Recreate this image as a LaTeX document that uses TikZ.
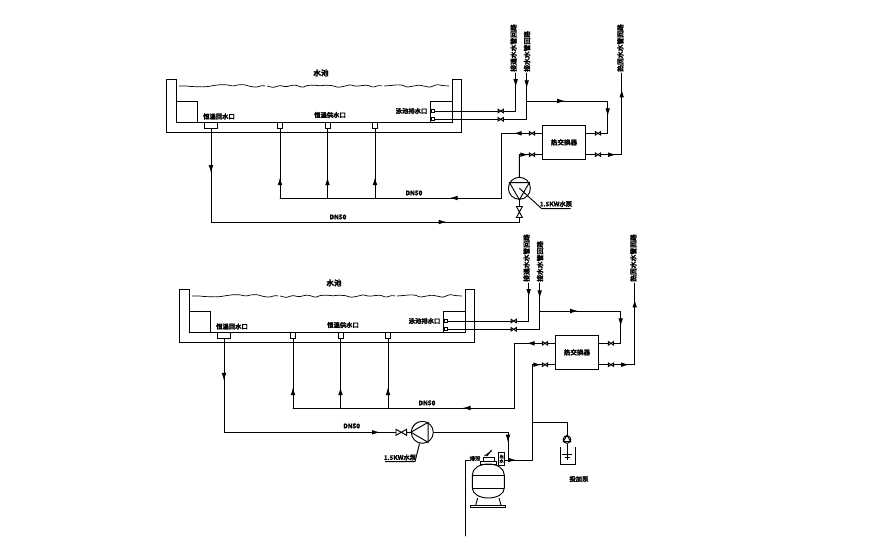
\documentclass[tikz,border=0pt]{standalone}
\usepackage{fontspec}
\setmainfont{Noto Sans CJK SC}[BoldFont={Noto Sans CJK SC Bold},BoldFeatures={FakeBold=1.6}]
\usetikzlibrary{arrows.meta,decorations.markings,decorations.pathmorphing}
\tikzset{
  pipe/.style={draw,thick,line cap=round},
  flowat/.style={postaction={decorate,decoration={markings,mark=at position #1 with {\arrow{Latex[length=2.4mm,width=1.4mm]}}}}},
  lbl/.style={font=\fontsize{5.4}{6}\selectfont\bfseries,inner sep=0pt},
  riser/.style={font=\fontsize{5.8}{7}\selectfont\bfseries,inner sep=0pt,rotate=90,anchor=west},
  valve/.style={inner sep=0pt,outer sep=0pt,minimum width=0.16cm,minimum height=0.105cm},
  bigvalve/.style={inner sep=0pt,outer sep=0pt,minimum width=0.32cm,minimum height=0.18cm},
  upvalve/.style={inner sep=0pt,outer sep=0pt,minimum width=0.18cm,minimum height=0.33cm},
  port/.style={draw,thick,inner sep=0pt,minimum size=0.09cm},
  tapbox/.style={draw,thick,inner sep=0pt,anchor=north,minimum width=0.15cm,minimum height=0.165cm},
  drainbox/.style={draw,thick,inner sep=0pt,anchor=north,minimum width=0.4cm,minimum height=0.165cm},
  hxbox/.style={draw,thick,inner sep=0pt,minimum width=1.3cm,minimum height=1.02cm,font=\fontsize{5.6}{6}\selectfont\bfseries},
  pumpcirc/.style={draw,thick,circle,inner sep=0pt,minimum size=0.66cm},
  water/.style={semithick,decorate,decoration={random steps,segment length=5pt,amplitude=1.5pt},rounded corners=1pt}
}
\newcommand{\tikzValveNode}[3][valve]{
  \node[#1] (#2) at (#3) {};
  \draw[thick] (#2.north west) -- (#2.south west) -- (#2.north east) -- (#2.south east) -- cycle;
}
\newcommand{\tikzValveUpNode}[2]{
  \node[upvalve] (#1) at (#2) {};
  \draw[thick] (#1.north west) -- (#1.north east) -- (#1.south west) -- (#1.south east) -- cycle;
}
\newcommand{\tikzPumpNode}[5]{
  \node[pumpcirc] (#1) at (#2) {};
  \draw[thick] (#1.#3) -- (#1.#4) -- (#1.#5) -- cycle;
}
% pool, exchanger and all the pipes that both plants share
\newcommand{\tikzPoolNode}[3]{
  \begin{scope}[shift={(#2)},name prefix=#1-]
  \draw[thick] (166,79) -- (176.5,79) -- (176.5,122) -- (452,122) -- (452,79) -- (461.7,79) -- (461.7,132) -- (166,132) -- cycle;
  \draw[thick] (176.5,101) -| (197.5,122);
  \draw[thick] (452,101) -| (430.3,122);
  \pgfmathsetseed{#3}
  \draw[water] (179,86) -- (265,86);
  \draw[water] (267,86) -- (382,86);
  \draw[water] (384,86) -- (449,86);
  \node[lbl,font=\fontsize{6.5}{7}\selectfont\bfseries] (name) at (321,73) {水池};
  \node[drainbox] (out) at (211,122) {};
  \node[tapbox] (tap1) at (280,122) {};
  \node[tapbox] (tap2) at (327.5,122) {};
  \node[tapbox] (tap3) at (375,122) {};
  \node[lbl] (outname) at (219,116.5) {恒温回水口};
  \node[lbl] (tapname) at (330,115) {恒温供水口};
  \node[lbl] (portname) at (411.5,111) {泳池排水口};
  \node[lbl] (dnone) at (414,193) {DN50};
  \node[port] (pa) at (432.5,111) {};
  \node[port] (pb) at (432.5,119.3) {};

  \node[hxbox] (hx) at (564,142.3) {热交换器};
  \tikzValveNode{va}{500.7,111}
  \tikzValveNode{vb}{500.7,119.3}
  \tikzValveNode{vc}{532,133.3}
  \tikzValveNode{vd}{532,154.7}
  \tikzValveNode{ve}{598,133.3}
  \tikzValveNode{vf}{598,154.7}

  \node[riser] (ra) at (513.5,72) {接通水水管回路};
  \node[riser] (rb) at (527,72) {接水水管回路};
  \node[riser] (rc) at (620.3,72) {热回水水管回路};
  \coordinate (ha) at (515.7,73);
  \coordinate (hb) at (526.7,73);
  \coordinate (hc) at (621.7,73);
  \coordinate (hj) at (526.7,101);
  \coordinate (hk) at (607.7,133.3);
  \coordinate (lb) at (501.7,133.3);
  \coordinate (lc) at (501.7,198);
  \coordinate (ld) at (280,198);
  \coordinate (lj) at (519.3,154.7);

  \draw[pipe,flowat=0.28] (ha) |- (va);
  \draw[pipe] (va) -- (pa);
  \draw[pipe,flowat=0.22] (hb) |- (vb);
  \draw[pipe] (vb) -- (pb);
  \draw[pipe,flowat=0.32,flowat=0.8] (hj) -| (hk) -- (ve);
  \draw[pipe] (ve) -- (hx.east |- ve);
  \draw[pipe] (hx.east |- vf) -- (vf);
  \draw[pipe,flowat=0.15,flowat=0.84] (vf) -| (hc);
  \draw[pipe] (hx.west |- vc) -- (vc);
  \draw[pipe,flowat=0.05,flowat=0.46] (vc) -- (lb) -- (lc) -- (ld);
  \draw[pipe,flowat=0.9] (lj) -- (vd);
  \draw[pipe] (vd) -- (hx.west |- vd);
  \draw[pipe,flowat=0.3] (ld) -- (tap1.south);
  \draw[pipe,flowat=0.3] (tap2.south |- ld) -- (tap2.south);
  \draw[pipe,flowat=0.3] (tap3.south |- ld) -- (tap3.south);
  \end{scope}
}

\begin{document}
\begin{tikzpicture}[x=0.03cm,y=-0.03cm]
  \useasboundingbox (0,0) rectangle (870,555);

  % upper plant
  \tikzPoolNode{top}{0,0}{11}
  \tikzPumpNode{tpump}{519.4,188.3}{270}{30}{150}
  \tikzValveUpNode{tvalve}{519.4,212}
  \coordinate (tbend) at (519.4,222);
  \draw[pipe,flowat=0.11,flowat=0.81] (top-out.south) |- (tbend) -- (tvalve);
  \draw[pipe] (tvalve) -- (tpump);
  \draw[pipe] (tpump) -- (top-lj);
  \node[lbl] (tdn) at (338,217) {DN50};
  \coordinate (tleada) at (541.7,208.7);
  \coordinate (tleadb) at (570.7,208.7);
  \draw[thick] (tpump.center) -- (tleada) -- (tleadb);
  \node[lbl] (tpname) at (556,204) {1.5KW水泵};

  % lower plant
  \tikzPoolNode{bot}{13,210}{11}
  \tikzValveNode[bigvalve]{bvalve}{401.3,432.3}
  \tikzPumpNode{bpump}{422.3,432.3}{180}{60}{300}
  \draw[pipe,flowat=0.16,flowat=0.94] (bot-out.south) |- (bvalve);
  \draw[pipe] (bvalve) -- (bpump);
  \node[lbl] (bdn) at (351.7,426) {DN50};
  \coordinate (bleada) at (415,461.7);
  \coordinate (bleadb) at (385,461.7);
  \draw[thick] (bpump) -- (bleada) -- (bleadb);
  \node[lbl] (bpname) at (400,457.5) {1.5KW水泵};

  % sand filter
  \draw[thick] (472.3,475) .. controls (472.3,468) and (480,464) .. (488.3,464) .. controls (496.6,464) and (504.3,468) .. (504.3,475) -- (504.3,488) .. controls (504.3,494) and (497,498) .. (488.3,498) .. controls (480,498) and (472.3,494) .. (472.3,488) -- cycle;
  \draw[thick] (472.3,475) -- (504.3,475) (472.3,488) -- (504.3,488);
  \draw[thick] (480,461.7) rectangle (496.7,464);
  \draw[thick] (483.3,457.3) rectangle (494.3,461.7);
  \draw[thick] (484.5,456) -- (491.5,451) (487,456) -- (491.5,450);
  \draw[thick] (477.7,498) -- (475.7,505) (499,498) -- (501,505);
  \draw[thick] (470,505) rectangle (505.7,507.3);
  \node[lbl,font=\fontsize{4.5}{5}\selectfont\bfseries] (fin) at (475,458.5) {排污};
  \node[draw,thick,inner sep=0pt,minimum width=0.2cm,minimum height=0.37cm,align=center,font=\fontsize{3.6}{3.8}\selectfont\bfseries] (fout) at (501.6,458.8) {出\\水};
  \coordinate (fdrain) at (465.7,536);
  \coordinate (fbend) at (465.7,460.5);
  \draw[pipe] (fdrain) -- (fbend) -- (fin.west |- fbend);

  \coordinate (bbend) at (508,432.3);
  \coordinate (bturn) at (532.3,460);
  \coordinate (bdrop) at (508,460);
  \draw[pipe,flowat=0.83] (bpump) -- (bbend) -- (bdrop);
  \coordinate (bjoin) at (532.3,422.7);
  \draw[pipe,flowat=0.4] (fout.east |- bturn) -- (bturn);
  \draw[pipe] (bturn) -- (bot-lj);

  % dosing pump
  \node[draw,thick,circle,inner sep=0pt,minimum size=0.23cm] (dgauge) at (567,439.5) {};
  \draw[thick] (dgauge.90) -- (dgauge.210) -- (dgauge.330) -- cycle;
  \draw[pipe] (bjoin) -| (dgauge);
  \draw[thick] (560.7,446.7) -- (560.7,464.3) -- (575,464.3) -- (575,446.7);
  \coordinate (dfoot) at (567,460);
  \draw[thick] (dgauge) -- (dfoot);
  \draw[thick] (562,454) -- (572,454) (564.5,457) -- (569.5,457);
  \node[lbl] (dname) at (579,479) {投加泵};
\end{tikzpicture}
\end{document}
